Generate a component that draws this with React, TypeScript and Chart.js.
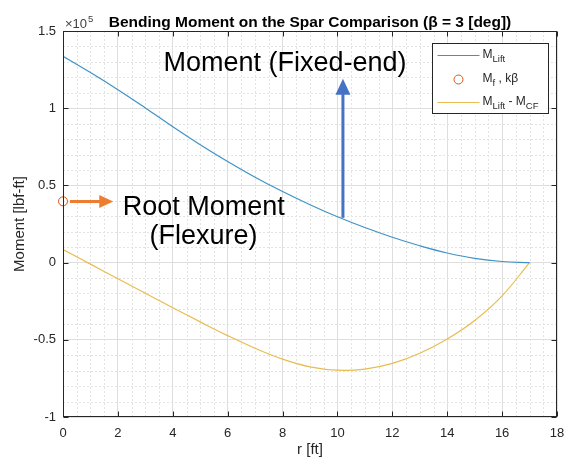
import React, { useEffect, useRef } from 'react';
import { Chart, registerables } from 'chart.js';

Chart.register(...registerables);

// ---------- data (lbf-ft) ----------
const R_FT = [0, 1, 2, 3, 4, 5, 6, 7, 8, 9, 10, 11, 12, 13, 14, 15, 16, 17];
const M_LIFT = [133600, 123100, 112000, 100200, 88000, 76400, 65500, 55300, 46000, 37500, 29700, 22700, 16400, 10900, 6200, 2700, 700, 0];
const M_LIFT_MINUS_CF = [8500, -1000, -10400, -19800, -29200, -38400, -47300, -55500, -62500, -67500, -69700, -69000, -65300, -58700, -49500, -37500, -21500, 0];
const ROOT_R = [0];
const ROOT_M = [39700];

// ---------- axes ----------
const X_MIN = 0, X_MAX = 18, X_STEP = 2, X_MINOR = 0.5;
const Y_MIN = -100000, Y_MAX = 150000, Y_STEP = 50000, Y_MINOR = 10000;
const Y_EXPONENT = 5;

const TITLE = 'Bending Moment on the Spar Comparison (\u03B2 = 3 [deg])';
const X_TITLE = 'r [ft]';
const Y_TITLE = 'Moment [lbf-ft]';

// annotations (data coordinates)
const FIXED_TEXT = 'Moment (Fixed-end)';
const FIXED_TEXT_POS = { x: 8.09, y: 129000 };
const FIXED_ARROW = { x: 10.2, from: 29000, to: 119000 };
const ROOT_TEXT = ['Root Moment', '(Flexure)'];
const ROOT_TEXT_POS = [{ x: 5.13, y: 35800 }, { x: 5.12, y: 16700 }];
const ROOT_ARROW = { y: 39500, from: 0.25, to: 1.83 };

const FONT = '"Liberation Sans", Arial, Helvetica, sans-serif';
const AXIS_COLOR = '#262626';
const BLUE = '#3E93C6';
const YELLOW = '#E8BC4E';
const ORANGE_MARK = '#D95319';

function isMultiple(v: number, step: number) {
  return Math.abs(v / step - Math.round(v / step)) < 1e-6;
}

function drawSubText(ctx: CanvasRenderingContext2D, parts: [string, boolean][], x: number, y: number) {
  let cx = x;
  for (const [t, sub] of parts) {
    ctx.font = sub ? `9.5px ${FONT}` : `12px ${FONT}`;
    ctx.fillText(t, cx, sub ? y + 4 : y);
    cx += ctx.measureText(t).width;
  }
}

const decorPlugin = {
  id: 'decor',
  beforeDatasetsDraw(chart: any) {
    const { ctx, chartArea: a, scales } = chart;
    const x = scales.x, y = scales.y;
    ctx.save();
    ctx.strokeStyle = '#E3E3E3';
    ctx.lineWidth = 1;
    ctx.setLineDash([2, 2]);
    for (let v = X_MIN; v <= X_MAX + 1e-9; v += X_MINOR) {
      if (isMultiple(v, X_STEP)) continue;
      const px = Math.round(x.getPixelForValue(v)) + 0.5;
      ctx.beginPath();
      ctx.moveTo(px, a.top);
      ctx.lineTo(px, a.bottom);
      ctx.stroke();
    }
    for (let v = Y_MIN; v <= Y_MAX + 1e-6; v += Y_MINOR) {
      if (isMultiple(v, Y_STEP)) continue;
      const py = Math.round(y.getPixelForValue(v)) + 0.5;
      ctx.beginPath();
      ctx.moveTo(a.left, py);
      ctx.lineTo(a.right, py);
      ctx.stroke();
    }
    ctx.restore();
  },
  afterDatasetsDraw(chart: any) {
    const { ctx, chartArea: a, scales } = chart;
    const x = scales.x, y = scales.y;
    ctx.save();

    // box + inward ticks
    ctx.strokeStyle = AXIS_COLOR;
    ctx.lineWidth = 1;
    ctx.setLineDash([]);
    const L = Math.round(a.left) + 0.5, Rr = Math.round(a.right) - 0.5;
    const T = Math.round(a.top) + 0.5, B = Math.round(a.bottom) - 0.5;
    ctx.strokeRect(L, T, Rr - L, B - T);
    for (let v = X_MIN; v <= X_MAX + 1e-9; v += X_STEP) {
      const px = Math.round(x.getPixelForValue(v)) + 0.5;
      ctx.beginPath();
      ctx.moveTo(px, B); ctx.lineTo(px, B - 5);
      ctx.moveTo(px, T); ctx.lineTo(px, T + 5);
      ctx.stroke();
    }
    for (let v = Y_MIN; v <= Y_MAX + 1e-6; v += Y_STEP) {
      const py = Math.round(y.getPixelForValue(v)) + 0.5;
      ctx.beginPath();
      ctx.moveTo(L, py); ctx.lineTo(L + 5, py);
      ctx.moveTo(Rr, py); ctx.lineTo(Rr - 5, py);
      ctx.stroke();
    }

    // blue arrow (fixed-end moment)
    const bx = x.getPixelForValue(FIXED_ARROW.x);
    const by0 = y.getPixelForValue(FIXED_ARROW.from);
    const by1 = y.getPixelForValue(FIXED_ARROW.to);
    ctx.strokeStyle = '#4472C4';
    ctx.fillStyle = '#4472C4';
    ctx.lineWidth = 3;
    ctx.beginPath();
    ctx.moveTo(bx, by0);
    ctx.lineTo(bx, by1 + 14);
    ctx.stroke();
    ctx.beginPath();
    ctx.moveTo(bx, by1);
    ctx.lineTo(bx - 7.5, by1 + 16);
    ctx.lineTo(bx + 7.5, by1 + 16);
    ctx.closePath();
    ctx.fill();

    // orange arrow (root moment)
    const oy = y.getPixelForValue(ROOT_ARROW.y);
    const ox0 = x.getPixelForValue(ROOT_ARROW.from);
    const ox1 = x.getPixelForValue(ROOT_ARROW.to);
    ctx.strokeStyle = '#ED7D31';
    ctx.fillStyle = '#ED7D31';
    ctx.beginPath();
    ctx.moveTo(ox0, oy);
    ctx.lineTo(ox1 - 12, oy);
    ctx.stroke();
    ctx.beginPath();
    ctx.moveTo(ox1, oy);
    ctx.lineTo(ox1 - 14, oy - 6.5);
    ctx.lineTo(ox1 - 14, oy + 6.5);
    ctx.closePath();
    ctx.fill();

    // annotation texts
    ctx.fillStyle = '#000';
    ctx.font = `27px ${FONT}`;
    ctx.textAlign = 'center';
    ctx.textBaseline = 'middle';
    ctx.fillText(FIXED_TEXT, x.getPixelForValue(FIXED_TEXT_POS.x), y.getPixelForValue(FIXED_TEXT_POS.y));
    ROOT_TEXT.forEach((t, i) => {
      ctx.fillText(t, x.getPixelForValue(ROOT_TEXT_POS[i].x), y.getPixelForValue(ROOT_TEXT_POS[i].y));
    });

    // legend
    const lw = 116, lh = 70;
    const lx = Math.round(a.right) - 125 + 0.5;
    const ly = Math.round(a.top) + 12 + 0.5;
    ctx.fillStyle = '#fff';
    ctx.fillRect(lx, ly, lw, lh);
    ctx.strokeStyle = AXIS_COLOR;
    ctx.lineWidth = 1;
    ctx.strokeRect(lx, ly, lw, lh);
    const rows = [ly + 12, ly + 36, ly + 59];
    ctx.lineWidth = 1.2;
    ctx.strokeStyle = BLUE;
    ctx.beginPath(); ctx.moveTo(lx + 5, rows[0]); ctx.lineTo(lx + 47, rows[0]); ctx.stroke();
    ctx.strokeStyle = ORANGE_MARK;
    ctx.lineWidth = 1;
    ctx.beginPath(); ctx.arc(lx + 26, rows[1], 4.5, 0, Math.PI * 2); ctx.stroke();
    ctx.strokeStyle = YELLOW;
    ctx.lineWidth = 1.2;
    ctx.beginPath(); ctx.moveTo(lx + 5, rows[2]); ctx.lineTo(lx + 47, rows[2]); ctx.stroke();
    ctx.fillStyle = AXIS_COLOR;
    ctx.textAlign = 'left';
    ctx.textBaseline = 'alphabetic';
    drawSubText(ctx, [['M', false], ['Lift', true]], lx + 50, rows[0] + 2);
    drawSubText(ctx, [['M', false], ['f', true], [' , k\u03B2', false]], lx + 50, rows[1] + 2);
    drawSubText(ctx, [['M', false], ['Lift', true], [' - M', false], ['CF', true]], lx + 50, rows[2] + 2);

    ctx.restore();
  },
  afterDraw(chart: any) {
    const { ctx, chartArea: a } = chart;
    ctx.save();
    // title
    ctx.fillStyle = '#000';
    ctx.font = `bold 15.5px ${FONT}`;
    ctx.textAlign = 'center';
    ctx.textBaseline = 'alphabetic';
    ctx.fillText(TITLE, (a.left + a.right) / 2, 27);
    // exponent
    ctx.fillStyle = '#404040';
    ctx.textAlign = 'left';
    ctx.font = `13px ${FONT}`;
    ctx.fillText('\u00D710', a.left + 2, 28);
    const w = ctx.measureText('\u00D710').width;
    ctx.font = `9.5px ${FONT}`;
    ctx.fillText(String(Y_EXPONENT), a.left + 3 + w, 22);
    ctx.restore();
  },
};

export default function App() {
  const ref = useRef<HTMLCanvasElement | null>(null);
  useEffect(() => {
    if (!ref.current) return;
    const chart = new Chart(ref.current, {
      type: 'scatter',
      data: {
        datasets: [
          {
            label: 'M_Lift',
            data: R_FT.map((r, i) => ({ x: r, y: M_LIFT[i] })),
            showLine: true,
            borderColor: BLUE,
            borderWidth: 1.2,
            pointRadius: 0,
            tension: 0.4,
          },
          {
            label: 'M_f, kβ',
            data: ROOT_R.map((r, i) => ({ x: r, y: ROOT_M[i] })),
            showLine: false,
            pointStyle: 'circle',
            pointRadius: 4.5,
            pointBorderWidth: 1,
            borderColor: ORANGE_MARK,
            backgroundColor: 'rgba(0,0,0,0)',
            clip: false,
          },
          {
            label: 'M_Lift - M_CF',
            data: R_FT.map((r, i) => ({ x: r, y: M_LIFT_MINUS_CF[i] })),
            showLine: true,
            borderColor: YELLOW,
            borderWidth: 1.2,
            pointRadius: 0,
            tension: 0.4,
          },
        ] as any,
      },
      options: {
        animation: false,
        responsive: false,
        layout: { padding: { left: 0, top: 31, right: 7, bottom: 0 } },
        plugins: {
          legend: { display: false },
          title: { display: false },
          tooltip: { enabled: false },
        },
        scales: {
          x: {
            type: 'linear',
            min: X_MIN,
            max: X_MAX,
            afterFit: (s: any) => { s.height = 45; s.paddingLeft = 0; s.paddingRight = 0; },
            ticks: {
              stepSize: X_STEP,
              padding: 9,
              color: AXIS_COLOR,
              autoSkip: false,
              maxRotation: 0,
              font: { family: FONT, size: 13 },
            },
            grid: { color: '#DEDEDE', drawTicks: false },
            border: { display: false },
            title: {
              display: true,
              text: X_TITLE,
              color: AXIS_COLOR,
              font: { family: FONT, size: 15 },
              padding: { top: 0, bottom: 3 },
            },
          },
          y: {
            type: 'linear',
            min: Y_MIN,
            max: Y_MAX,
            afterFit: (s: any) => { s.width = 63; s.paddingTop = 0; s.paddingBottom = 0; },
            ticks: {
              stepSize: Y_STEP,
              padding: 7,
              color: AXIS_COLOR,
              font: { family: FONT, size: 13 },
              callback: (v: any) => String(Math.round((Number(v) / Math.pow(10, Y_EXPONENT)) * 10) / 10),
            },
            grid: { color: '#DEDEDE', drawTicks: false },
            border: { display: false },
            title: {
              display: true,
              text: Y_TITLE,
              color: AXIS_COLOR,
              font: { family: FONT, size: 15 },
              padding: { top: 11, bottom: 0 },
            },
          },
        },
      } as any,
      plugins: [decorPlugin],
    });
    return () => chart.destroy();
  }, []);

  return (
    <div style={{ position: 'absolute', left: 0, top: 0, width: 564, height: 462, background: '#fff' }}>
      <canvas ref={ref} width={564} height={462} style={{ display: 'block' }} />
    </div>
  );
}
